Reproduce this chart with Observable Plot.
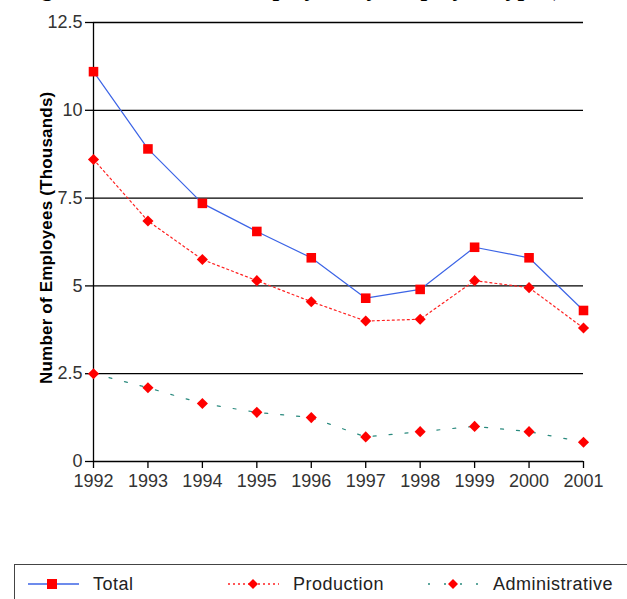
<!DOCTYPE html>
<html>
<head>
<meta charset="utf-8">
<script src="https://cdn.jsdelivr.net/npm/d3@7"></script>
<script src="https://cdn.jsdelivr.net/npm/@observablehq/plot@0.6"></script>
<style>
  html, body { margin: 0; padding: 0; background: #fff; overflow: hidden; }
  body { width: 627px; height: 599px; position: relative; font-family: "Liberation Sans", Arial, sans-serif; }
  #title { position: absolute; top: -25px; left: 20px; white-space: nowrap; font-family: "Liberation Serif", "Times New Roman", serif; font-weight: bold; font-size: 24px; color: #000; }
  #chart { position: absolute; top: 0; left: 0; }
  #legend { position: absolute; left: 14px; top: 564px; width: 640px; height: 60px; border: 1.5px solid #444; box-sizing: border-box; }
  .item { position: absolute; top: 574px; height: 20px; display: flex; align-items: center; font-size: 18px; letter-spacing: 0.5px; color: #222; }
  .item svg { margin-right: 14px; }
</style>
</head>
<body>
<div id="title">Figure 3: Number of Employees by Employee Type (Thousands)</div>
<div id="chart"></div>
<div id="legend"></div>
<script>
const years = [1992, 1993, 1994, 1995, 1996, 1997, 1998, 1999, 2000, 2001];
const total = [11.1, 8.9, 7.35, 6.55, 5.8, 4.65, 4.9, 6.1, 5.8, 4.3];
const production = [8.6, 6.85, 5.75, 5.15, 4.55, 4.0, 4.05, 5.15, 4.95, 3.8];
const administrative = [2.5, 2.1, 1.65, 1.4, 1.25, 0.7, 0.85, 1.0, 0.85, 0.55];
const yTicks = [0, 2.5, 5, 7.5, 10, 12.5];
const yTickLabels = ["0", "2.5", "5", "7.5", "10", "12.5"];
const seriesNames = ["Total", "Production", "Administrative"];

const mk = arr => years.map((y, i) => ({year: y, value: arr[i]}));
const T = mk(total), P = mk(production), A = mk(administrative);

const chart = Plot.plot({
  width: 627,
  height: 500,
  marginLeft: 93,
  marginRight: 44,
  marginTop: 22,
  marginBottom: 39,
  style: {fontFamily: "'Liberation Sans', Arial, sans-serif", fontSize: "18px", color: "#333", background: "transparent"},
  x: {domain: [1992, 2001], label: null},
  y: {domain: [0, 12.5], label: null},
  marks: [
    Plot.ruleY(yTicks.filter(d => d > 0), {stroke: "#000", strokeWidth: 1.3}),
    Plot.ruleY([0], {stroke: "#000", strokeWidth: 1.3}),
    Plot.ruleX([1992], {y1: 0, y2: 12.5, stroke: "#000", strokeWidth: 1.3}),
    Plot.axisX({ticks: years, tickFormat: d => String(d), tickSize: 7, tickPadding: 6, stroke: "#000", fill: "#333", strokeWidth: 1.3, fontSize: 18}),
    Plot.axisY({ticks: yTicks, tickFormat: d => yTickLabels[yTicks.indexOf(d)], tickSize: 8, tickPadding: 3, stroke: "#000", fill: "#333", strokeWidth: 1.3, fontSize: 18}),
    Plot.line(A, {x: "year", y: "value", stroke: "#2a8a7e", strokeWidth: 1.2, strokeDasharray: "3,13"}),
    Plot.line(P, {x: "year", y: "value", stroke: "#ff2020", strokeWidth: 1.2, strokeDasharray: "2,3"}),
    Plot.line(T, {x: "year", y: "value", stroke: "#3c64e6", strokeWidth: 1.2}),
    Plot.dot(A, {x: "year", y: "value", symbol: "diamond2", r: 5, fill: "#ff0000", stroke: "none"}),
    Plot.dot(P, {x: "year", y: "value", symbol: "diamond2", r: 5, fill: "#ff0000", stroke: "none"}),
    Plot.dot(T, {x: "year", y: "value", symbol: "square", r: 5.4, fill: "#ff0000", stroke: "none"}),
    Plot.text(["Number of Employees (Thousands)"], {frameAnchor: "left", dx: -47, y: 6.37, rotate: -90, textAnchor: "middle", fontWeight: "bold", fontSize: 17, fill: "#000"})
  ]
});
document.getElementById("chart").appendChild(chart);
chart.querySelectorAll("text").forEach(t => {
  if (t.textContent === "Number of Employees (Thousands)") t.setAttribute("letter-spacing", "0.2");
});

// legend
const items = [
  {name: seriesNames[0], left: 28, color: "#3c64e6", dash: null, symbol: "square"},
  {name: seriesNames[1], left: 228, color: "#ff2020", dash: "2,3", symbol: "diamond"},
  {name: seriesNames[2], left: 428, color: "#2a8a7e", dash: "2,14", symbol: "diamond"}
];
items.forEach(it => {
  const div = document.createElement("div");
  div.className = "item";
  div.style.left = it.left + "px";
  const ns = "http://www.w3.org/2000/svg";
  const svg = document.createElementNS(ns, "svg");
  svg.setAttribute("width", 51); svg.setAttribute("height", 20);
  const line = document.createElementNS(ns, "line");
  line.setAttribute("x1", 0); line.setAttribute("x2", 51); line.setAttribute("y1", 10); line.setAttribute("y2", 10);
  line.setAttribute("stroke", it.color); line.setAttribute("stroke-width", 1.3);
  if (it.dash) line.setAttribute("stroke-dasharray", it.dash);
  svg.appendChild(line);
  let m;
  if (it.symbol === "square") {
    m = document.createElementNS(ns, "rect");
    m.setAttribute("x", 19); m.setAttribute("y", 5); m.setAttribute("width", 10); m.setAttribute("height", 10);
  } else {
    m = document.createElementNS(ns, "path");
    m.setAttribute("d", "M25,5 L30,10 L25,15 L20,10 Z");
  }
  m.setAttribute("fill", "#ff0000");
  svg.appendChild(m);
  div.appendChild(svg);
  const span = document.createElement("span");
  span.textContent = it.name;
  div.appendChild(span);
  document.body.appendChild(div);
});
</script>
</body>
</html>
